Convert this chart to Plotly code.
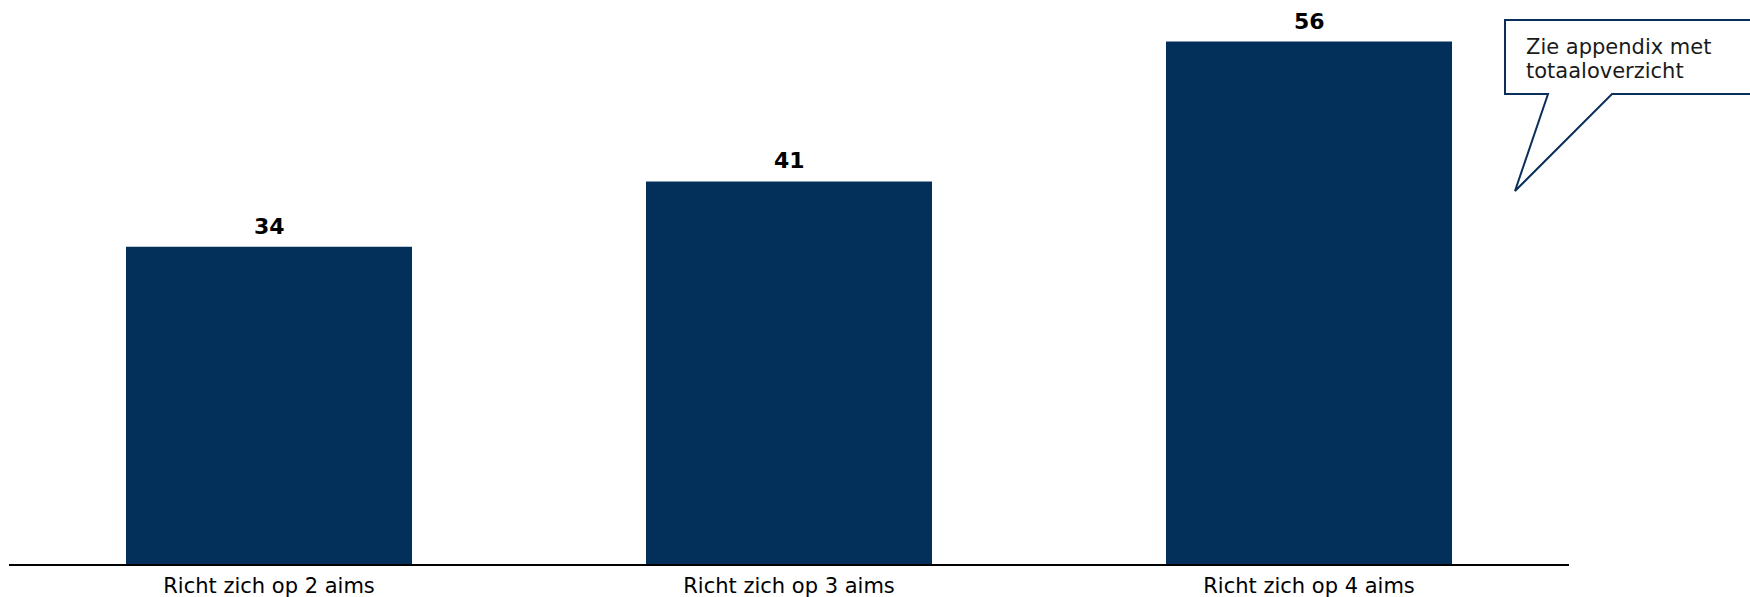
import plotly.graph_objects as go

categories = ["Richt zich op 2 aims", "Richt zich op 3 aims", "Richt zich op 4 aims"]
values = [34, 41, 56]
callout_lines = ["Zie appendix met", "totaaloverzicht"]

BAR_COLOR = "#02305A"
LINE_COLOR = "#0B2F5B"
FONT = "DejaVu Sans, Verdana, sans-serif"

W, H = 1750, 597
ML, MR, MT, MB = 9, 181, 0, 33
plot_w = W - ML - MR
plot_h = H - MT - MB


def px_to_paper(px, py):
    return (px - ML) / plot_w, (H - MB - py) / plot_h


fig = go.Figure(
    go.Bar(
        x=categories,
        y=values,
        marker=dict(color=BAR_COLOR, line=dict(width=0)),
        width=0.55,
        hoverinfo="skip",
    )
)

# value labels above each bar
for c, v in zip(categories, values):
    fig.add_annotation(
        x=c, y=v, text=f"<b>{v}</b>", showarrow=False,
        yanchor="bottom", yshift=6,
        font=dict(family=FONT, size=22, color="#000000"),
    )

# speech-bubble callout
pts = [(1505, 20), (1760, 20), (1760, 94), (1612, 94), (1515, 191), (1548, 94), (1505, 94)]
path = ""
for i, (px, py) in enumerate(pts):
    x, y = px_to_paper(px, py)
    path += ("M" if i == 0 else "L") + f"{x:.5f},{y:.5f} "
path += "Z"
fig.add_shape(
    type="path", path=path, xref="paper", yref="paper",
    line=dict(color=LINE_COLOR, width=2), fillcolor="white", layer="above",
)
for line_text, cy in zip(callout_lines, [46.5, 71.5]):
    tx, ty = px_to_paper(1524, cy)
    fig.add_annotation(
        x=tx, y=ty, xref="paper", yref="paper", xanchor="left", yanchor="middle",
        text=line_text, showarrow=False, align="left",
        font=dict(family=FONT, size=21, color="#1a1a1a"),
    )

fig.update_layout(
    width=W, height=H,
    margin=dict(l=ML, r=MR, t=MT, b=MB),
    paper_bgcolor="white", plot_bgcolor="white",
    showlegend=False,
    bargap=0.45,
    xaxis=dict(
        showline=True, linecolor="#000000", linewidth=2,
        showgrid=False, ticks="", ticklabelstandoff=2,
        tickfont=dict(family=FONT, size=21, color="#000000"),
    ),
    yaxis=dict(range=[0, plot_h / 9.33], visible=False, showgrid=False, zeroline=False),
)

fig.write_html("out.html")
